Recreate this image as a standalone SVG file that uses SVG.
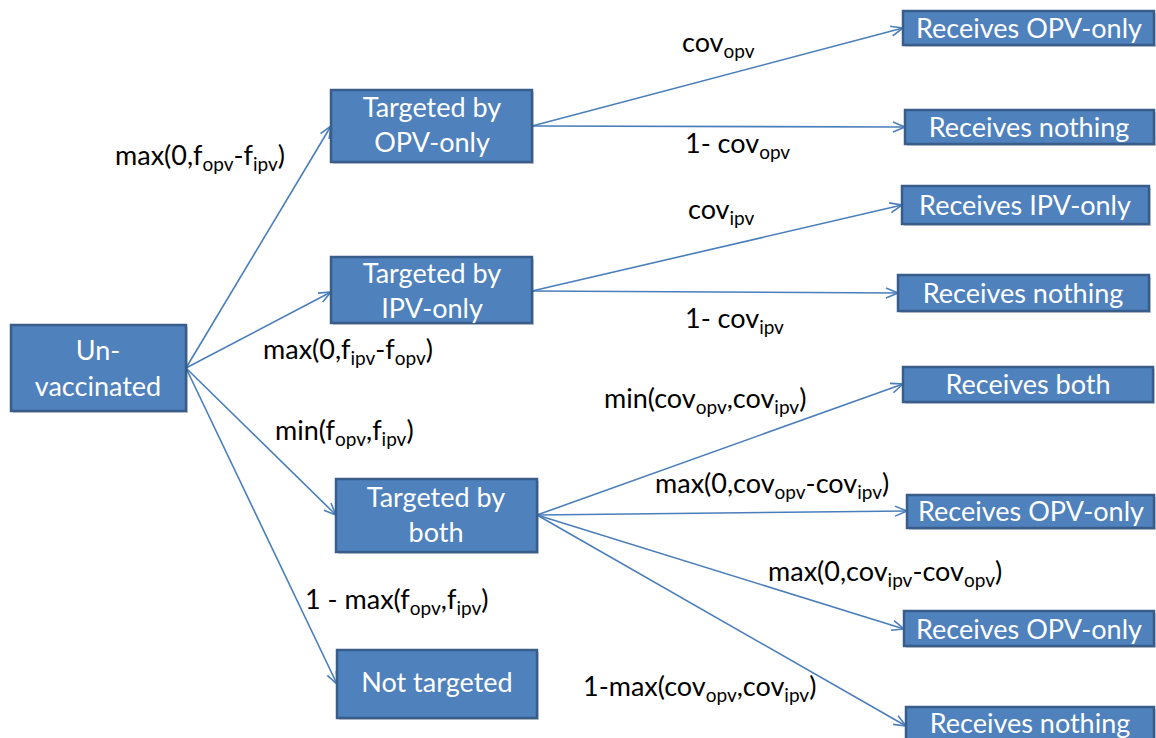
<svg xmlns="http://www.w3.org/2000/svg" width="1156" height="738" viewBox="0 0 1156 738">
<style>
.box{fill:#4f81bd;stroke:#385d8a;stroke-width:2.5}
.sh{fill:#000;opacity:0.18}
.bt{font-family:Lato,"Open Sans",sans-serif;font-size:27px;fill:#fff;text-anchor:middle}
.lb{font-family:Lato,"Open Sans",sans-serif;font-size:27px;fill:#000}
.sub{font-size:19px}
.con line{stroke:#4a7ebb;stroke-width:1.6;fill:none;marker-end:url(#ah)}
</style>
<defs>
<marker id="ah" markerUnits="userSpaceOnUse" markerWidth="16" markerHeight="16" refX="13" refY="6" viewBox="0 0 16 12" orient="auto">
<path d="M1,1 L13,6 L1,11" fill="none" stroke="#4a7ebb" stroke-width="1.6"/>
</marker>
</defs>
<rect width="1156" height="738" fill="#fff"/>
<g class="con">
<line x1="186" y1="368" x2="331" y2="126"/>
<line x1="186" y1="368" x2="331" y2="292"/>
<line x1="186" y1="368" x2="336" y2="515"/>
<line x1="186" y1="368" x2="337" y2="684"/>
<line x1="532" y1="126" x2="903" y2="28"/>
<line x1="532" y1="126" x2="905" y2="127"/>
<line x1="532" y1="291" x2="902" y2="205"/>
<line x1="532" y1="291" x2="898" y2="293"/>
<line x1="537" y1="515" x2="903" y2="384"/>
<line x1="537" y1="515" x2="907" y2="511"/>
<line x1="537" y1="515" x2="904" y2="629"/>
<line x1="537" y1="515" x2="906" y2="726"/>
</g>
<g id="unvaccinated"><rect class="sh" x="13" y="327" width="175" height="86"/><rect class="box" x="11" y="325" width="175" height="86"/><text class="bt" x="98" y="360">Un-</text><text class="bt" x="98" y="396">vaccinated</text></g>
<g id="targeted-opv"><rect class="sh" x="333" y="92" width="201" height="72"/><rect class="box" x="331" y="90" width="201" height="72"/><text class="bt" x="432" y="117">Targeted by</text><text class="bt" x="432" y="152">OPV-only</text></g>
<g id="targeted-ipv"><rect class="sh" x="333" y="259" width="201" height="66"/><rect class="box" x="331" y="257" width="201" height="66"/><text class="bt" x="432" y="283">Targeted by</text><text class="bt" x="432" y="318">IPV-only</text></g>
<g id="targeted-both"><rect class="sh" x="338" y="481" width="201" height="73"/><rect class="box" x="336" y="479" width="201" height="73"/><text class="bt" x="436" y="507">Targeted by</text><text class="bt" x="436" y="542">both</text></g>
<g id="not-targeted"><rect class="sh" x="339" y="652" width="200" height="68"/><rect class="box" x="337" y="650" width="200" height="68"/><text class="bt" x="437" y="692">Not targeted</text></g>
<g id="r1"><rect class="sh" x="905" y="13" width="251" height="34"/><rect class="box" x="903" y="11" width="251" height="34"/><text class="bt" x="1029" y="38">Receives OPV-only</text></g>
<g id="r2"><rect class="sh" x="907" y="112" width="249" height="34"/><rect class="box" x="905" y="110" width="249" height="34"/><text class="bt" x="1029" y="137">Receives nothing</text></g>
<g id="r3"><rect class="sh" x="904" y="188" width="247" height="38"/><rect class="box" x="902" y="186" width="247" height="38"/><text class="bt" x="1025" y="215">Receives IPV-only</text></g>
<g id="r4"><rect class="sh" x="900" y="277" width="251" height="36"/><rect class="box" x="898" y="275" width="251" height="36"/><text class="bt" x="1023" y="303">Receives nothing</text></g>
<g id="r5"><rect class="sh" x="905" y="369" width="250" height="35"/><rect class="box" x="903" y="367" width="250" height="35"/><text class="bt" x="1028" y="394">Receives both</text></g>
<g id="r6"><rect class="sh" x="909" y="497" width="247" height="33"/><rect class="box" x="907" y="495" width="247" height="33"/><text class="bt" x="1031" y="521">Receives OPV-only</text></g>
<g id="r7"><rect class="sh" x="906" y="613" width="250" height="35"/><rect class="box" x="904" y="611" width="250" height="35"/><text class="bt" x="1029" y="639">Receives OPV-only</text></g>
<g id="r8"><rect class="sh" x="908" y="709" width="248" height="40"/><rect class="box" x="906" y="707" width="248" height="40"/><text class="bt" x="1030" y="733">Receives nothing</text></g>
<g id="labels">
<text class="lb" x="115" y="165">max(0,f<tspan class="sub" dy="6">opv</tspan><tspan dy="-6">-f</tspan><tspan class="sub" dy="6">ipv</tspan><tspan dy="-6">)</tspan></text>
<text class="lb" x="682" y="52">cov<tspan class="sub" dy="6">opv</tspan></text>
<text class="lb" x="685" y="153">1- cov<tspan class="sub" dy="6">opv</tspan></text>
<text class="lb" x="688" y="219">cov<tspan class="sub" dy="6">ipv</tspan></text>
<text class="lb" x="685" y="328">1- cov<tspan class="sub" dy="6">ipv</tspan></text>
<text class="lb" x="263" y="359">max(0,f<tspan class="sub" dy="6">ipv</tspan><tspan dy="-6">-f</tspan><tspan class="sub" dy="6">opv</tspan><tspan dy="-6">)</tspan></text>
<text class="lb" x="275" y="440">min(f<tspan class="sub" dy="6">opv</tspan><tspan dy="-6">,f</tspan><tspan class="sub" dy="6">ipv</tspan><tspan dy="-6">)</tspan></text>
<text class="lb" x="604" y="408">min(cov<tspan class="sub" dy="6">opv</tspan><tspan dy="-6">,cov</tspan><tspan class="sub" dy="6">ipv</tspan><tspan dy="-6">)</tspan></text>
<text class="lb" x="655" y="493">max(0,cov<tspan class="sub" dy="6">opv</tspan><tspan dy="-6">-cov</tspan><tspan class="sub" dy="6">ipv</tspan><tspan dy="-6">)</tspan></text>
<text class="lb" x="768" y="581">max(0,cov<tspan class="sub" dy="6">ipv</tspan><tspan dy="-6">-cov</tspan><tspan class="sub" dy="6">opv</tspan><tspan dy="-6">)</tspan></text>
<text class="lb" x="305" y="609">1 - max(f<tspan class="sub" dy="6">opv</tspan><tspan dy="-6">,f</tspan><tspan class="sub" dy="6">ipv</tspan><tspan dy="-6">)</tspan></text>
<text class="lb" x="583" y="696">1-max(cov<tspan class="sub" dy="6">opv</tspan><tspan dy="-6">,cov</tspan><tspan class="sub" dy="6">ipv</tspan><tspan dy="-6">)</tspan></text>
</g>
</svg>
